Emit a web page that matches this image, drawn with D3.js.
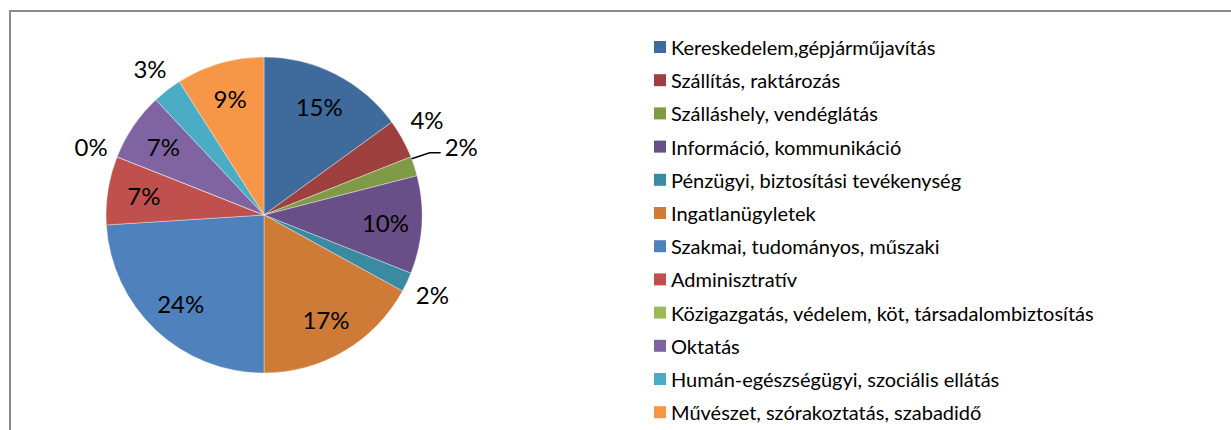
<!DOCTYPE html>
<html>
<head>
<meta charset="utf-8">
<script src="https://cdn.jsdelivr.net/npm/d3@7"></script>
<style>
  html, body { margin: 0; padding: 0; background: #fff; }
  svg { display: block; }
  text { font-family: Lato, "Open Sans", sans-serif; fill: #000; }
</style>
</head>
<body>
<svg id="chart" width="1231" height="430"></svg>
<script>
// Sector names, in pie order (clockwise from 12 o'clock)
const categories = [
  "Kereskedelem,gépjárműjavítás",
  "Szállítás, raktározás",
  "Szálláshely, vendéglátás",
  "Információ, kommunikáció",
  "Pénzügyi, biztosítási tevékenység",
  "Ingatlanügyletek",
  "Szakmai, tudományos, műszaki",
  "Adminisztratív",
  "Közigazgatás, védelem, köt, társadalombiztosítás",
  "Oktatás",
  "Humán-egészségügyi, szociális ellátás",
  "Művészet, szórakoztatás, szabadidő"
];

// Share of each sector, in percent
const shares = [15, 4, 2, 10, 2, 17, 24, 7, 0, 7, 3, 9];

// Slice colours
const sliceColors = [
  "#3e6a9c", "#9e413e", "#7f9b48", "#684f87", "#3a8ba2", "#cd7b37",
  "#4f81bd", "#c0504d", "#9bbb59", "#8064a2", "#4bacc6", "#f79646"
];

const svg = d3.select("#chart");

// Frame of the chart area (runs off the right and bottom edges)
svg.append("rect")
  .attr("x", 10).attr("y", 11)
  .attr("width", 1240).attr("height", 440)
  .attr("fill", "none")
  .attr("stroke", "#8a8a8a")
  .attr("stroke-width", 2);

const cx = 264, cy = 215, R = 158;

const data = categories.map((c, i) => ({ name: c, value: shares[i], color: sliceColors[i], i }));

const pie = d3.pie().value(d => d.value).sort(null);
const arcs = pie(data);

const arc = d3.arc().innerRadius(0).outerRadius(R);
const inner = d3.arc().innerRadius(R * 0.77).outerRadius(R * 0.77);

const g = svg.append("g").attr("transform", `translate(${cx},${cy})`);

g.selectAll("path.slice")
  .data(arcs)
  .join("path")
  .attr("class", "slice")
  .attr("d", arc)
  .attr("fill", d => d.data.color)
  .attr("stroke", "#ffffff")
  .attr("stroke-opacity", 0.6)
  .attr("stroke-width", 0.6);

// Percent labels: large slices inside, small ones outside the rim
const fmt = v => `${v}%`;
const midAngle = d => (d.startAngle + d.endAngle) / 2;
const polar = (a, r) => [Math.sin(a) * r, -Math.cos(a) * r];

const labelSize = 24;
const placed = [];

arcs.forEach(d => {
  const a = midAngle(d);
  if (d.data.value >= 5) {
    const [x, y] = inner.centroid(d);
    g.append("text")
      .attr("x", x).attr("y", y)
      .attr("text-anchor", "middle")
      .attr("dominant-baseline", "central")
      .attr("font-size", labelSize)
      .text(fmt(d.data.value));
    return;
  }
  let [x, y] = polar(a, R + 28);
  const prev = placed[placed.length - 1];
  if (prev && Math.hypot(prev[0] - x, prev[1] - y) < 55 && d.data.value > 0) {
    // crowded: push the label out and draw a leader line to it
    const [sx, sy] = polar(a - 0.05, R);
    const [kx, ky] = polar(a - 0.045, R + 19);
    const ex = kx + 11;
    g.append("path")
      .attr("d", `M${sx},${sy}L${kx},${ky}L${ex},${ky}`)
      .attr("fill", "none")
      .attr("stroke", "#000")
      .attr("stroke-width", 1.5);
    g.append("text")
      .attr("x", ex + 4).attr("y", ky - 6)
      .attr("text-anchor", "start")
      .attr("dominant-baseline", "central")
      .attr("font-size", labelSize)
      .text(fmt(d.data.value));
    placed.push([ex + 19, ky - 6]);
    return;
  }
  if (d.index === 1) y -= 6;
  g.append("text")
    .attr("x", x).attr("y", y)
    .attr("text-anchor", "middle")
    .attr("dominant-baseline", "central")
    .attr("font-size", labelSize)
    .text(fmt(d.data.value));
  placed.push([x, y]);
});

// Legend
const legend = svg.append("g").attr("transform", "translate(654,47)");
const rowH = 33.2;
const rows = legend.selectAll("g")
  .data(data)
  .join("g")
  .attr("transform", (d, i) => `translate(0,${i * rowH})`);

rows.append("rect")
  .attr("x", 0).attr("y", -6)
  .attr("width", 12).attr("height", 12)
  .attr("fill", d => d.color);

rows.append("text")
  .attr("x", 17).attr("y", 0)
  .attr("dominant-baseline", "central")
  .attr("font-size", 20)
  .text(d => d.name);
</script>
</body>
</html>
